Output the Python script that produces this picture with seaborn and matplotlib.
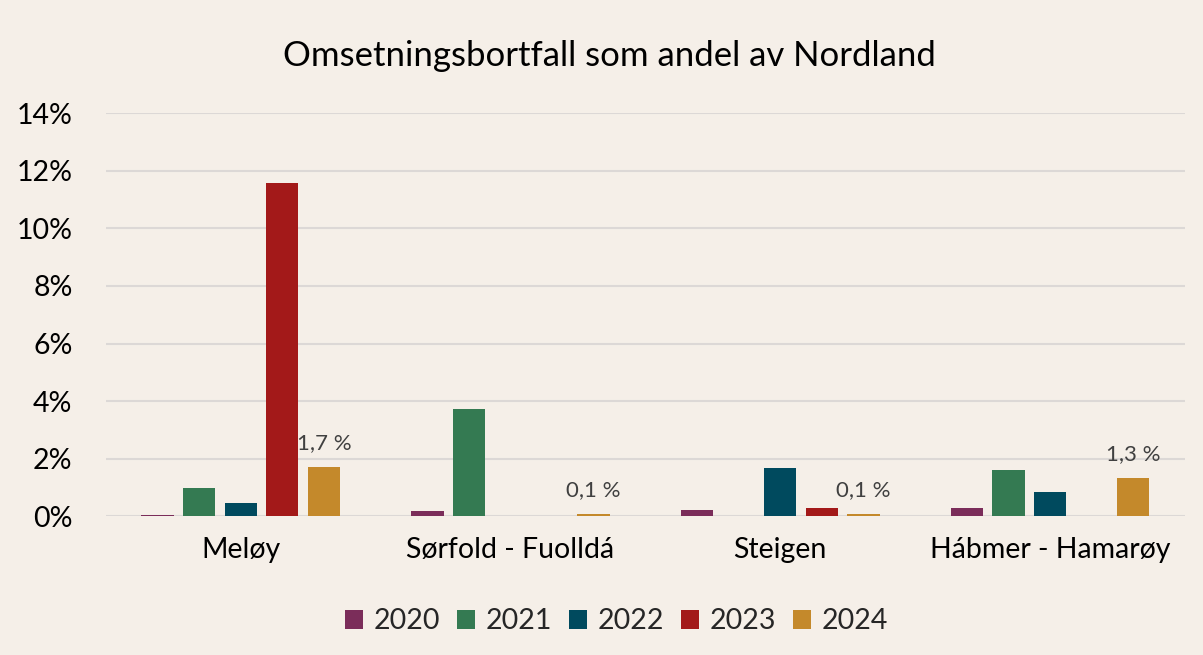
import matplotlib
matplotlib.use("Agg")
import matplotlib.pyplot as plt
import seaborn as sns
import pandas as pd
from matplotlib.ticker import FuncFormatter, MultipleLocator

# Share of Nordland's turnover loss, per municipality and year (percent)
kommuner = ["Meløy", "Sørfold - Fuolldá", "Steigen", "Hábmer - Hamarøy"]
years = ["2020", "2021", "2022", "2023", "2024"]
v2020 = [0.05, 0.18, 0.23, 0.28]
v2021 = [0.98, 3.71, 0.0, 1.59]
v2022 = [0.44, 0.0, 1.66, 0.83]
v2023 = [11.57, 0.0, 0.30, 0.0]
v2024 = [1.70, 0.06, 0.07, 1.34]

colors = ["#7B2D5A", "#347A52", "#004A5E", "#A31919", "#C4892B"]
bg = "#F5EFE8"

rows = []
for yr, vals in zip(years, [v2020, v2021, v2022, v2023, v2024]):
    for k, v in zip(kommuner, vals):
        rows.append({"kommune": k, "år": yr, "andel": v})
df = pd.DataFrame(rows)

sns.set_theme(style="white")
plt.rcParams["font.family"] = ["Lato", "DejaVu Sans"]

fig = plt.figure(figsize=(12.03, 6.55), dpi=100, facecolor=bg)
ax = fig.add_axes([0.088, 0.212, 0.897, 0.615])
ax.set_facecolor(bg)

sns.barplot(data=df, x="kommune", y="andel", hue="år", hue_order=years,
            order=kommuner, palette=colors, width=0.77, gap=0.22,
            ax=ax, saturation=1, edgecolor="none", legend=True)

ax.set_ylim(0, 14)
ax.set_xlim(-0.5, len(kommuner) - 0.5)
ax.yaxis.set_major_locator(MultipleLocator(2))
ax.yaxis.set_major_formatter(FuncFormatter(lambda v, p: f"{v:.0f}%"))
ax.grid(axis="y", color="#DCD8D6", linewidth=1.5)
ax.set_axisbelow(True)
for s in ax.spines.values():
    s.set_visible(False)
ax.set_xlabel("")
ax.set_ylabel("")
ax.tick_params(axis="y", labelsize=20.5, colors="#000000", length=0, pad=24)
ax.tick_params(axis="x", labelsize=20.5, colors="#000000", length=0, pad=15)

# Value labels on the 2024 bars
bars2024 = ax.containers[years.index("2024")]
ax.bar_label(bars2024, labels=[f"{v:.1f} %".replace(".", ",") for v in v2024],
             padding=10, fontsize=16, color="#404040")

fig.text(0.507, 0.915, "Omsetningsbortfall som andel av Nordland",
         fontsize=25, color="#000000", ha="center", va="center")

handles, labels = ax.get_legend_handles_labels()
ax.legend(handles, labels, loc="upper center", bbox_to_anchor=(0.473, -0.165),
          ncol=5, frameon=False, fontsize=20.5, handlelength=0.65, handleheight=0.65,
          handletextpad=0.35, columnspacing=0.6)

fig.savefig("out.png", dpi=100, facecolor=bg)
